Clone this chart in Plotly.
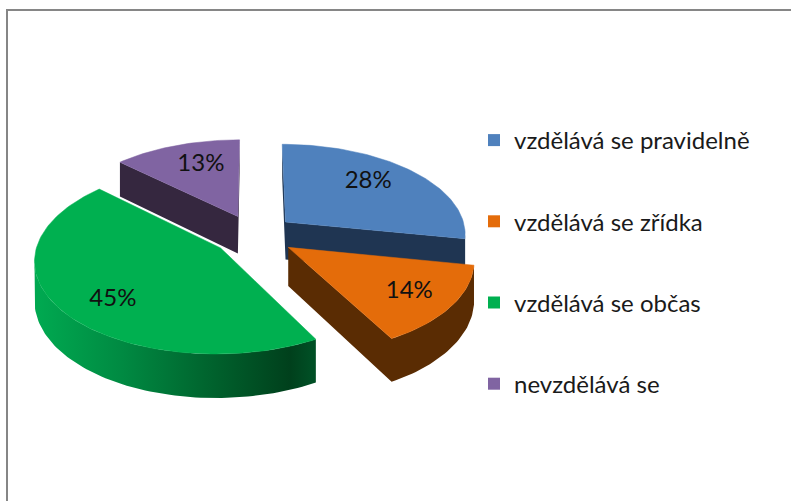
import math
import plotly.graph_objects as go

categories = ["vzdělává se pravidelně", "vzdělává se zřídka", "vzdělává se občas", "nevzdělává se"]
values = [28, 14, 45, 13]
top_colors = ["#4F81BD", "#E46C0A", "#00B050", "#8064A2"]
wall_colors = ["#1F3552", "#5A2C03", "#00B050", "#35273F"]
paint_order = [0, 3, 2, 1]
label_radius = [0.70, 0.76, 0.75, 0.69]
label_turn_deg = [-4.6, 0.4, -6.6, 3.7]

CX, CY, RX, RY, PERSP, DEPTH, PULL = 254, 235, 181, 90, 0.12, 38, 0.23


def project(u, v):
    w = 1 + PERSP * v
    return CX + RX * u / w, CY - RY * v / w, DEPTH / w


def slice_outline(start, end, mid):
    ox, oy = PULL * math.sin(mid), PULL * math.cos(mid)
    n = max(8, int((end - start) * 40))
    pts = [project(ox, oy)]
    for i in range(n + 1):
        t = start + (end - start) * i / n
        pts.append(project(ox + math.sin(t), oy + math.cos(t)))
    return pts, ox, oy


def wall_polygon(pts):
    m = len(pts)
    vis = [pts[(i + 1) % m][0] < pts[i][0] - 1e-9 for i in range(m)]
    s = next(i for i in range(m) if vis[i] and not vis[i - 1])
    run = [pts[s]]
    i = s
    while vis[i % m]:
        run.append(pts[(i + 1) % m])
        i += 1
    xs = [p[0] for p in run] + [p[0] for p in reversed(run)]
    ys = [p[1] for p in run] + [p[1] + p[2] for p in reversed(run)]
    return xs, ys


total = sum(values)
angles = []
acc = 0.0
for val in values:
    a0 = 2 * math.pi * acc / total
    acc += val
    angles.append((a0, 2 * math.pi * acc / total))

fig = go.Figure()
for idx in paint_order:
    a0, a1 = angles[idx]
    mid = (a0 + a1) / 2
    pts, ox, oy = slice_outline(a0, a1, mid)
    wx, wy = wall_polygon(pts)
    wall = dict(x=wx, y=wy, mode="lines", fill="toself", hoverinfo="skip", showlegend=False, line=dict(width=0))
    if idx == 2:
        wall["fillgradient"] = dict(
            type="horizontal", start=40, stop=312,
            colorscale=[[0, "#00A850"], [0.3, "#008A42"], [0.6, "#00662F"], [0.92, "#00401C"], [1, "#004F25"]],
        )
    else:
        wall["fillcolor"] = wall_colors[idx]
    fig.add_trace(go.Scatter(**wall))
    fig.add_trace(go.Scatter(
        x=[p[0] for p in pts] + [pts[0][0]], y=[p[1] for p in pts] + [pts[0][1]],
        mode="lines", fill="toself", fillcolor=top_colors[idx],
        line=dict(width=0.5, color=top_colors[idx]), hoverinfo="skip", showlegend=False,
    ))

for idx, name in enumerate(categories):
    fig.add_trace(go.Scatter(
        x=[None], y=[None], mode="markers", name=name, legendrank=idx + 1, legendgroup=name,
        marker=dict(symbol="square", size=15, color=top_colors[idx]),
    ))

lx, ly, lt = [], [], []
for idx, val in enumerate(values):
    a0, a1 = angles[idx]
    mid = (a0 + a1) / 2
    turned = mid + math.radians(label_turn_deg[idx])
    r = label_radius[idx]
    x, y, _ = project(PULL * math.sin(mid) + r * math.sin(turned), PULL * math.cos(mid) + r * math.cos(turned))
    lx.append(x)
    ly.append(y)
    lt.append(f"{val}%")
fig.add_trace(go.Scatter(
    x=lx, y=ly, text=lt, mode="text", showlegend=False, hoverinfo="skip",
    textposition="middle center", textfont=dict(family="Lato", size=24, color="#111111"),
))

fig.update_layout(
    width=791, height=501, margin=dict(l=0, r=0, t=0, b=0),
    paper_bgcolor="white", plot_bgcolor="white",
    xaxis=dict(range=[0, 791], visible=False, fixedrange=True),
    yaxis=dict(range=[501, 0], visible=False, fixedrange=True),
    legend=dict(
        x=474 / 791, y=1 - 118 / 501, xanchor="left", yanchor="top",
        font=dict(family="Lato", size=24, color="#1a1a1a"),
        tracegroupgap=47, bgcolor="rgba(0,0,0,0)", itemsizing="constant",
    ),
    shapes=[
        dict(type="line", xref="x", yref="y", x0=7, x1=7, y0=10, y1=501, line=dict(color="#868686", width=2)),
        dict(type="line", xref="x", yref="y", x0=6, x1=791, y0=10, y1=10, line=dict(color="#868686", width=2)),
    ],
)
fig.write_html("out.html", post_script="document.body.style.margin='0';document.body.style.overflow='hidden';", config={"displayModeBar": False})
